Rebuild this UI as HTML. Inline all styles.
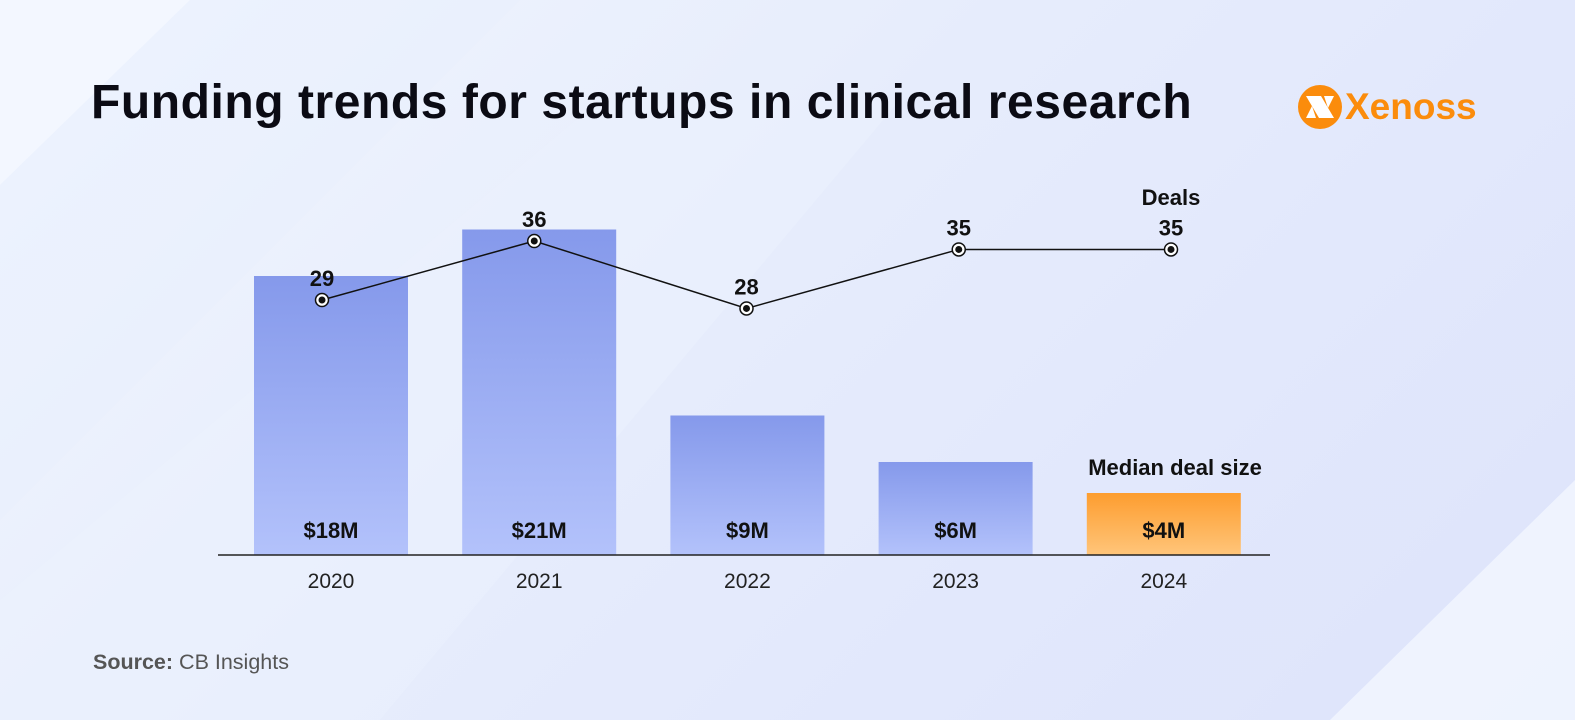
<!DOCTYPE html>
<html><head><meta charset="utf-8"><style>
html,body{margin:0;padding:0}
body{width:1575px;height:720px;overflow:hidden;position:relative;font-family:"Liberation Sans",sans-serif;background:linear-gradient(135deg,#f1f6fe 0%,#e6ecfc 45%,#dde3fb 100%)}
.t{position:absolute;left:91px;top:75px;font-size:48px;font-weight:bold;color:#0b0b14;letter-spacing:0.55px;margin:0}
.src{position:absolute;left:93px;top:650px;font-size:21.5px;color:#555}
</style></head><body>
<svg width="1575" height="720" style="position:absolute;left:0;top:0">
<polygon points="0,0 190,0 0,185" fill="#f4f8ff" opacity="0.8"/>
<polygon points="190,0 520,0 0,520 0,185" fill="#eaf0fd" opacity="0.6"/>
<polygon points="1575,480 1575,720 1330,720" fill="#f2f6ff" opacity="0.8"/>
<polygon points="0,720 0,600 600,100 900,100 380,720" fill="#ecf1fe" opacity="0.5"/>
</svg>
<h1 class="t">Funding trends for startups in clinical research</h1>
<div style="position:absolute;left:1297px;top:84px;width:190px;height:46px">
<svg width="46" height="46" style="position:absolute;left:0;top:0"><circle cx="23" cy="23" r="22" fill="#fb8c0c"/><polygon points="9,12 24,12 37,34 22,34" fill="#fff"/><polygon points="9,34 15,22 19,34" fill="#fff"/><polygon points="37,12 31,24 27,12" fill="#fff"/></svg>
<span style="position:absolute;left:48px;top:0;font-size:37px;font-weight:bold;color:#fb8c0c;line-height:46px">Xenoss</span>
</div>
<svg id="chart" width="1575" height="720" style="position:absolute;left:0;top:0">
<defs>
<linearGradient id="gb" x1="0" y1="0" x2="0" y2="1"><stop offset="0" stop-color="#8599eb"/><stop offset="1" stop-color="#b3c2fb"/></linearGradient>
<linearGradient id="go" x1="0" y1="0" x2="0" y2="1"><stop offset="0" stop-color="#fd9d2f"/><stop offset="1" stop-color="#ffc57a"/></linearGradient>
</defs>
</svg>
<div class="src"><b>Source:</b> CB Insights</div>
<script>
const years=["2020","2021","2022","2023","2024"];
const medianDeal=[18,21,9,6,4];
const medianLabels=["$18M","$21M","$9M","$6M","$4M"];
const deals=[29,36,28,35,35];
const NS="http://www.w3.org/2000/svg";
const svg=document.getElementById('chart');
const base=555;
const xBand=i=>331+i*208.2;
const yBar=v=>base-v*15.5;
const xLine=i=>322+i*212.25;
const yLine=v=>544.5-v*8.43;
function mk(t,a){const e=document.createElementNS(NS,t);for(const k in a)e.setAttribute(k,a[k]);svg.appendChild(e);return e;}
years.forEach((y,i)=>{
 const last=i===years.length-1;
 const r=mk('rect',{x:xBand(i)-77,y:yBar(medianDeal[i]),width:154,height:base-yBar(medianDeal[i]),fill:last?'url(#go)':'url(#gb)'});
 
 
 const l=mk('text',{x:xBand(i),y:538,'text-anchor':'middle','font-size':22,'font-weight':'bold',fill:'#111'});
 l.textContent=medianLabels[i];
 
 
 const yl=mk('text',{x:xBand(i),y:588,'text-anchor':'middle','font-size':21,fill:'#222'});
 yl.textContent=y;
 
 
});
const ax=mk('line',{x1:218,x2:1270,y1:base,y2:base,stroke:'#222','stroke-width':1.5});


const pl=mk('polyline',{points:deals.map((v,i)=>xLine(i)+','+yLine(v)).join(' '),fill:'none',stroke:'#111','stroke-width':1.5});


deals.forEach((v,i)=>{
 const c=mk('circle',{cx:xLine(i),cy:yLine(v),r:6.5,fill:'#fff',stroke:'#111','stroke-width':1.5});
 
 
 mk('circle',{cx:xLine(i),cy:yLine(v),r:3.5,fill:'#111'});
 const t=mk('text',{x:xLine(i),y:yLine(v)-14,'text-anchor':'middle','font-size':22,'font-weight':'bold',fill:'#111'});
 t.textContent=v;
 
 
});
const dl=mk('text',{x:xLine(4),y:205,'text-anchor':'middle','font-size':22,'font-weight':'bold',fill:'#111'});
dl.textContent='Deals';


const ml=mk('text',{x:1175,y:475,'text-anchor':'middle','font-size':22,'font-weight':'bold',fill:'#111'});
ml.textContent='Median deal size';


</script>
</body></html>
